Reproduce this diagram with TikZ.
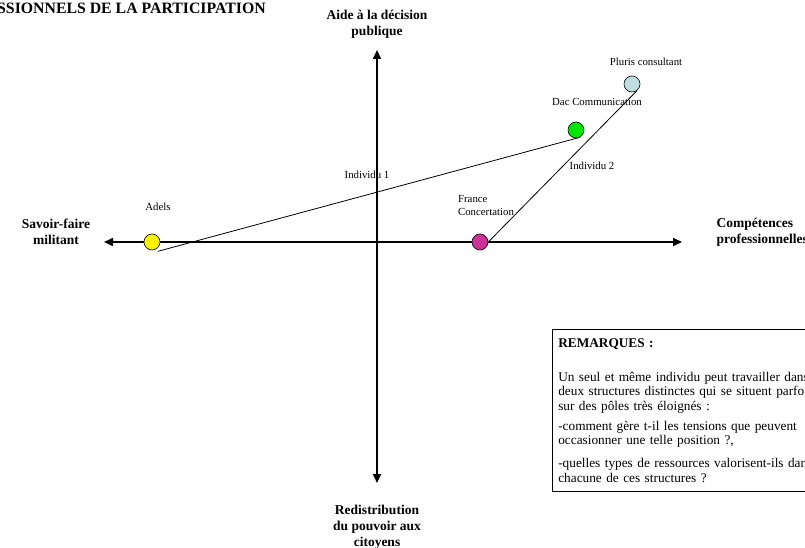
\documentclass[tikz,border=0pt]{standalone}
\usepackage{fontspec}
\setmainfont{Liberation Serif}
\usetikzlibrary{arrows.meta}

\begin{document}
\begin{tikzpicture}[x=1pt, y=-1pt,
                    axis/.style={line width=1.6pt, {Triangle[length=9pt,width=8pt]}-{Triangle[length=9pt,width=8pt]}},
                    pole/.style={font=\bfseries\fontsize{13.5}{16}\selectfont, align=center},
                    org/.style={circle, draw, line width=0.6pt, minimum size=16pt, inner sep=0pt},
                    label/.style={font=\fontsize{10.8}{13}\selectfont, inner sep=1pt},
                    link/.style={line width=0.8pt}]
    \useasboundingbox (0,0) rectangle (805,548);

    % axes
    \coordinate (gauche) at (104,242);
    \coordinate (droite) at (682,242);
    \coordinate (haut) at (377,50);
    \coordinate (bas) at (377,483);
    \draw[axis] (gauche) -- (droite);
    \draw[axis] (haut) -- (bas);

    % titre
    \node[anchor=west, font=\bfseries\fontsize{15.8}{18}\selectfont, inner sep=0pt] (titre) at (-3,8) {SSIONNELS DE LA PARTICIPATION};

    % poles
    \node[pole] (aide) at (377,24) {Aide à la décision\\publique};
    \node[pole] (savoir) at (56,232) {Savoir-faire\\militant};
    \node[pole, anchor=west, align=left] (competences) at (713,232) {Compétences\\professionnelles};
    \node[pole] (redistribution) at (377,527) {Redistribution\\du pouvoir aux\\citoyens};

    % structures
    \node[org, fill=yellow] (adels) at (152,242) {};
    \node[org, fill={rgb,255:red,204;green,51;blue,153}] (france) at (480,242) {};
    \node[org, fill={rgb,255:red,0;green,230;blue,0}] (dac) at (576,130) {};
    \node[org, fill={rgb,255:red,190;green,222;blue,226}] (pluris) at (632,84) {};

    \node[label] (adelslabel) at (158,207) {Adels};
    \node[label, align=left] (francelabel) at (486,206) {France\\Concertation};
    \node[label] (daclabel) at (597,102) {Dac Communication};
    \node[label] (pluislabel) at (646,62) {Pluris consultant};

    % individus
    \draw[link] (adels.-62) ++(2,2) coordinate (debut1) -- (dac.-62);
    \draw[link] (france.0) -- (pluris.-52);
    \node[label] (individu1) at (367,175) {Individu 1};
    \node[label] (individu2) at (592,166) {Individu 2};

    % remarques
    \node[draw, line width=0.6pt, anchor=north west, align=left, inner xsep=6pt, inner ysep=9pt,
          text width=300pt, font=\fontsize{13.3}{14.3}\selectfont] (remarques) at (552,329)
        {\textbf{REMARQUES :}\\[20pt]
         Un seul et même individu peut travailler dans\\
         deux structures distinctes qui se situent parfois\\
         sur des pôles très éloignés :\\[6pt]
         -comment gère t-il les tensions que peuvent\\
         occasionner une telle position ?,\\[9pt]
         -quelles types de ressources valorisent-ils dans\\
         chacune de ces structures ?};
\end{tikzpicture}
\end{document}
